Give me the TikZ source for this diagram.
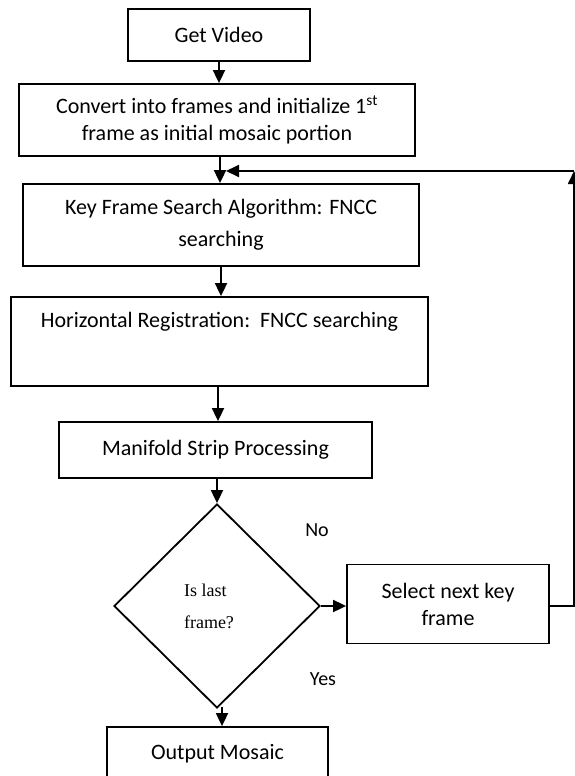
\documentclass[tikz,border=0pt]{standalone}
\usepackage{fontspec}
\setmainfont{Carlito}
\newfontfamily\timesf{Liberation Serif}
\usetikzlibrary{shapes.geometric,arrows.meta}
\begin{document}
\begin{tikzpicture}[x=1pt,y=-1pt,
  box/.style={draw,line width=1.8pt,inner sep=0pt,align=center,font=\fontsize{22}{27}\selectfont},
  arr/.style={line width=1.8pt,-{Triangle[length=13pt,width=12pt]}},
  lab/.style={font=\fontsize{20}{24}\selectfont}]
\useasboundingbox (0,0) rectangle (575,776);
\clip (0,0) rectangle (575,776);
\node[box,minimum width=182pt,minimum height=52pt] (gv) at (219,35) {Get Video};
\node[box,minimum width=396pt,minimum height=72pt] (conv) at (217,120) {Convert into frames and initialize 1\textsuperscript{st}\\frame as initial mosaic portion};
\node[box,minimum width=396pt,minimum height=82pt,font=\fontsize{22}{32}\selectfont] (kf) at (221,225) {Key Frame Search Algorithm: FNCC\\searching};
\node[box,minimum width=417pt,minimum height=89pt,text height=15pt,text depth=44pt,inner ysep=15pt] (hr) at (219.5,341.5) {Horizontal Registration:~~FNCC searching};
\node[box,minimum width=313pt,minimum height=56pt] (man) at (215.5,450) {Manifold Strip Processing};
\node[draw,diamond,line width=1.8pt,minimum width=206pt,minimum height=204pt,inner sep=0pt,align=left,font=\timesf\fontsize{18}{32}\selectfont] (dec) at (217,606) {Is last\\frame?\rule{16pt}{0pt}};
\node[box,minimum width=202pt,minimum height=79pt] (sel) at (448,604) {Select next key\\frame};
\node[box,minimum width=221pt,minimum height=54pt] (out) at (217.5,754) {Output Mosaic};
\node[lab] (no) at (317,530) {No};
\node[lab] (yes) at (323,679) {Yes};
\coordinate (j) at (220,171);
\coordinate (fb) at (226,171);
\coordinate (c) at (574,171);
\draw[arr] (gv.south) -- (gv.south |- conv.north);
\draw[arr] (j |- conv.south) -- (j |- kf.north);
\draw[arr] (kf.south) -- (kf.south |- hr.north);
\draw[arr] (218,386) coordinate (h1) -- (h1 |- man.north);
\draw[arr] (dec.north |- man.south) -- (dec.north);
\draw[arr] (dec.east) -- (dec.east -| sel.west);
\draw[arr] (sel.east |- dec.east) -| (c);
\draw[arr] (c) -- (fb);
\draw[arr] (222,707) coordinate (d1) -- (d1 |- out.north);
\end{tikzpicture}
\end{document}
